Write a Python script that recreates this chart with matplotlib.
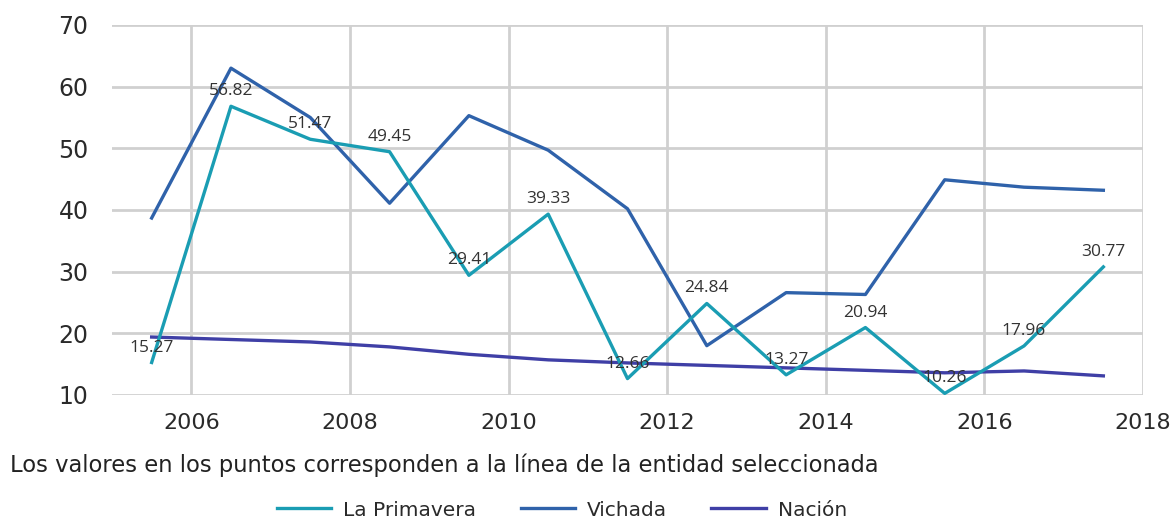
import matplotlib
matplotlib.use('Agg')
import matplotlib.pyplot as plt

# data
years = [2005.5, 2006.5, 2007.5, 2008.5, 2009.5, 2010.5, 2011.5,
         2012.5, 2013.5, 2014.5, 2015.5, 2016.5, 2017.5]
la_primavera = [15.27, 56.82, 51.47, 49.45, 29.41, 39.33, 12.66,
                24.84, 13.27, 20.94, 10.26, 17.96, 30.77]
vichada = [38.7, 63.0, 55.0, 41.1, 55.3, 49.7, 40.2,
           18.0, 26.6, 26.3, 44.9, 43.7, 43.2]
nacion = [19.4, 19.0, 18.6, 17.8, 16.6, 15.7, 15.2,
          14.8, 14.4, 14.0, 13.6, 13.9, 13.1]
x_ticks = [2006, 2008, 2010, 2012, 2014, 2016, 2018]
y_ticks = [10, 20, 30, 40, 50, 60, 70]

plt.rcParams['font.family'] = ['DejaVu Sans']

fig = plt.figure(figsize=(11.73, 5.21), dpi=100)
ax = fig.add_axes([112 / 1173, 1 - 395 / 521, (1143 - 112) / 1173, (395 - 25) / 521])

ax.plot(years, la_primavera, color='#1a9db3', lw=2.4, label='La Primavera', zorder=3)
ax.plot(years, vichada, color='#2f62aa', lw=2.4, label='Vichada', zorder=2)
ax.plot(years, nacion, color='#3f3fa6', lw=2.4, label='Nación', zorder=2)

# point labels for the selected entity
for x, v in zip(years, la_primavera):
    ax.annotate('%.2f' % v, (x, v), xytext=(0, 15), textcoords='offset pixels',
                ha='center', va='center', fontsize=12.5, family='Open Sans',
                color='#333333', zorder=4)

ax.set_xlim(2005, 2018)
ax.set_ylim(10, 70)
ax.set_xticks(x_ticks)
ax.set_yticks(y_ticks)
ax.grid(True, color='#d0d0d0', lw=2)
ax.set_axisbelow(True)
for s in ax.spines.values():
    s.set_visible(False)
ax.tick_params(length=0)
ax.tick_params(axis='y', labelsize=17, pad=17, labelcolor='#2a2a2a')
ax.tick_params(axis='x', labelsize=16, pad=13, labelcolor='#2a2a2a')

fig.text(10 / 1173, 1 - 465 / 521,
         'Los valores en los puntos corresponden a la línea de la entidad seleccionada',
         fontsize=16.3, color='#222222', va='center', ha='left')

fig.legend(loc='center', bbox_to_anchor=(562 / 1173, 1 - 510 / 521), ncol=3,
           frameon=False, fontsize=14.5, handlelength=2.7, columnspacing=2.2,
           handletextpad=0.6, labelcolor='#2a2a2a')

fig.savefig('out.png', dpi=100)
